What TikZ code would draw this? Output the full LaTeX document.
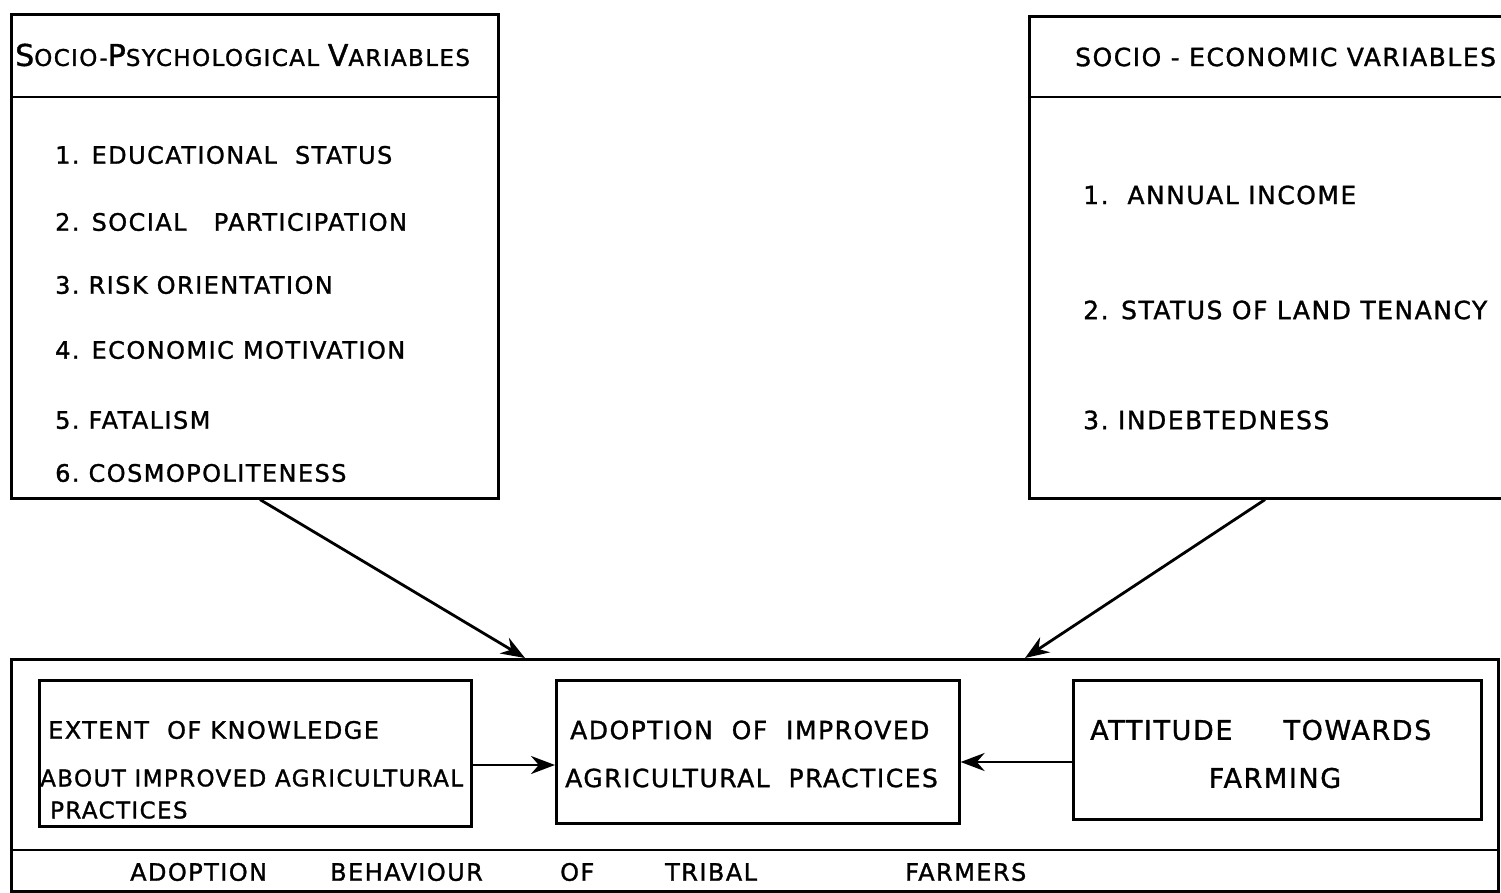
\documentclass[tikz,border=0pt]{standalone}
\usepackage{fontspec}
\newfontfamily\hand{DejaVu Sans}[LetterSpace=6,FakeBold=1.2]
\usetikzlibrary{arrows.meta}
\newcommand\fc[1]{{\fontsize{30}{30}\selectfont #1}}
\begin{document}
\begin{tikzpicture}[x=1pt,y=-1pt,
  box/.style={draw, line width=2.6pt, inner sep=0pt, anchor=north west},
  lbl/.style={anchor=west, inner sep=0pt, font=\hand\fontsize{24}{24}\selectfont},
  hdr/.style={anchor=west, inner sep=0pt, font=\hand\fontsize{23}{23}\selectfont},
  sml/.style={anchor=west, inner sep=0pt, font=\hand\fontsize{23}{23}\selectfont},
  mid/.style={anchor=west, inner sep=0pt, font=\hand\fontsize{25}{25}\selectfont},
  big/.style={anchor=west, inner sep=0pt, font=\hand\fontsize{27}{27}\selectfont},
  conn/.style={line width=2.8pt, -{Stealth[length=24pt,width=18pt]}}]
\useasboundingbox (0,0) rectangle (1501,893);
\fill[white] (0,0) rectangle (1501,893);

% top left box
\node[box, minimum width=487pt, minimum height=484pt] (psy) at (10,13) {};
\draw[line width=2.6pt] (psy.west |- 0,97) -- (psy.east |- 0,97);
\node[hdr] (psyh) at (15,55) {\fc{S}OCIO-\fc{P}SYCHOLOGICAL \fc{V}ARIABLES};
\node[lbl] (p1) at (55,155) {1. EDUCATIONAL\ \ STATUS};
\node[lbl] (p2) at (55,222) {2. SOCIAL\ \ \ PARTICIPATION};
\node[lbl] (p3) at (55,285) {3.\ RISK ORIENTATION};
\node[lbl] (p4) at (55,350) {4. ECONOMIC\ MOTIVATION};
\node[lbl] (p5) at (55,420) {5.\ FATALISM};
\node[lbl] (p6) at (55,473) {6.\ COSMOPOLITENESS};

% top right box
\node[box, minimum width=490pt, minimum height=482pt] (eco) at (1028,15) {};
\draw[line width=2.6pt] (eco.west |- 0,97) -- (eco.east |- 0,97);
\node[mid] (ecoh) at (1075,57) {SOCIO - ECONOMIC\ VARIABLES};
\node[mid] (e1) at (1083,195) {1.\ \ ANNUAL INCOME};
\node[mid] (e2) at (1083,310) {2. STATUS OF LAND TENANCY};
\node[mid] (e3) at (1083,420) {3.\ INDEBTEDNESS};

% bottom box
\node[box, minimum width=1487pt, minimum height=232pt] (beh) at (10,658) {};
\draw[line width=2.6pt] (beh.west |- 0,850) -- (beh.east |- 0,850);
\node[lbl] (behl) at (130,872) {\makebox[200pt][l]{ADOPTION}\makebox[230pt][l]{BEHAVIOUR}\makebox[105pt][l]{OF}\makebox[240pt][l]{TRIBAL}FARMERS};

\node[box, minimum width=432pt, minimum height=146pt] (k) at (38,679) {};
\node[lbl] (k1) at (48,730) {EXTENT\ \ OF KNOWLEDGE};
\node[sml] (k2) at (40,778) {ABOUT IMPROVED AGRICULTURAL};
\node[sml] (k3) at (50,810) {PRACTICES};

\node[box, minimum width=403pt, minimum height=143pt] (a) at (555,679) {};
\node[mid] (a1) at (570,730) {ADOPTION\ \ OF\ \ IMPROVED};
\node[mid] (a2) at (565,778) {AGRICULTURAL\ \ PRACTICES};

\node[box, minimum width=408pt, minimum height=139pt] (t) at (1072,679) {};
\node[big] (t1) at (1090,730) {ATTITUDE\ \ \ \ \ TOWARDS};
\node[big, anchor=center] (t2) at (1275,778) {FARMING};

% connectors
\draw[conn] (k.east |- 0,765) -- (a.west |- 0,765);
\draw[conn] (t.west |- 0,762) -- (a.east |- 0,762);
\draw[conn] (psy.south -| 260,0) -- (beh.north -| 525,0);
\draw[conn] (eco.south -| 1265,0) -- (beh.north -| 1025,0);
\end{tikzpicture}
\end{document}
